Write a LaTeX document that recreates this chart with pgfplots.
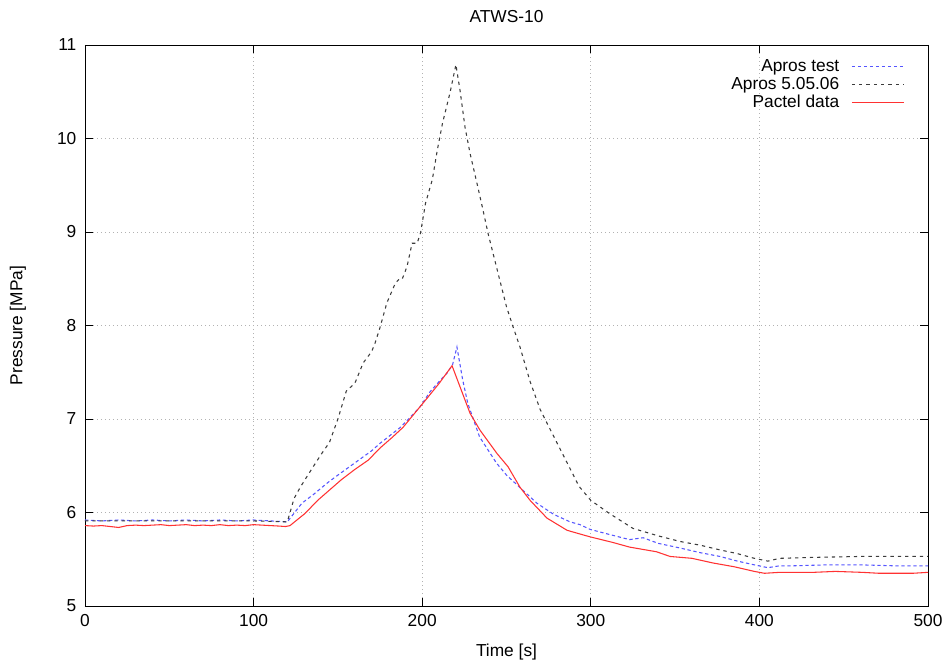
\documentclass[border=0pt]{standalone}
\usepackage{fontspec}
\setmainfont{Liberation Sans}
\usepackage{pgfplots}
\pgfplotsset{compat=1.18}
\usepackage{pgfplotstable}

\pgfplotstableread{
t P
0 5.92
10 5.91
20 5.92
30 5.91
40 5.92
50 5.91
60 5.92
70 5.91
80 5.92
90 5.91
100 5.92
110 5.91
120 5.90
128.7 6.10
136 6.20
144 6.32
150 6.40
160 6.53
170 6.66
175 6.74
187 6.91
193 7.02
198.7 7.13
204.6 7.29
210 7.40
214.7 7.49
218 7.58
220.6 7.77
224 7.42
227 7.17
234 6.81
244 6.53
250 6.40
256 6.30
268 6.10
278 5.98
287.7 5.90
293.6 5.87
299.5 5.82
310 5.77
323 5.71
331 5.73
340 5.67
353 5.62
365 5.57
376.6 5.53
387 5.48
397 5.44
405 5.41
412 5.43
420 5.43
440 5.44
460 5.44
480 5.43
500 5.43
}\aprostest

\pgfplotstableread{
t P
0 5.91
20 5.91
40 5.91
60 5.91
80 5.91
100 5.91
120 5.90
124 6.15
128 6.28
135 6.48
140 6.62
145 6.75
150 7.00
155 7.30
160 7.38
165 7.60
170 7.72
172 7.81
175 7.98
179 8.24
184 8.45
186 8.49
188 8.49
191 8.63
194 8.88
197 8.88
199 8.99
202 9.31
206 9.56
209 9.88
212 10.16
216.5 10.49
220 10.79
222.4 10.52
225.4 10.12
228.4 9.84
232.5 9.52
236 9.24
239 8.99
244 8.63
250 8.20
254 7.98
258 7.77
264 7.40
270 7.10
277 6.85
286 6.53
293 6.28
300 6.13
311 5.99
325 5.83
340 5.75
353 5.69
365 5.65
376.6 5.60
387 5.56
397 5.51
405 5.48
412 5.51
432 5.52
460 5.53
495 5.53
500 5.53
}\aprosold

\pgfplotstableread{
t P
0 5.86
5 5.855
10 5.86
15 5.85
20 5.84
25 5.86
30 5.865
35 5.86
40 5.865
45 5.87
50 5.86
55 5.865
60 5.87
65 5.86
70 5.865
75 5.86
80 5.87
85 5.86
90 5.865
95 5.86
100 5.87
105 5.865
110 5.86
115 5.855
119 5.85
121.6 5.86
130.5 5.99
138 6.13
145 6.24
152 6.35
160 6.46
168 6.56
175 6.69
182 6.80
188.6 6.91
195 7.05
202.8 7.22
210 7.38
217.7 7.57
228.4 7.06
234.3 6.88
244.4 6.63
250.9 6.49
258 6.27
264 6.13
274 5.94
285.9 5.81
293.6 5.77
299.5 5.74
313 5.68
323 5.63
339 5.58
347 5.53
360 5.51
372.5 5.46
385 5.42
397 5.37
403 5.35
412 5.36
432 5.36
445 5.37
461 5.36
471 5.35
491 5.35
500 5.36
}\pactel

\definecolor{aprosblue}{RGB}{85,85,255}
\definecolor{aprosblack}{RGB}{60,60,60}
\definecolor{pactelred}{RGB}{255,50,50}

\begin{document}
\begin{tikzpicture}
\useasboundingbox (-63.75pt,-44.25pt) rectangle (647.25pt,454.5pt);
\begin{axis}[
  at={(0pt,0pt)}, anchor=south west,
  scale only axis,
  width=632.25pt, height=420.75pt,
  xmin=0, xmax=500, ymin=5, ymax=11,
  xtick={0,100,...,500}, ytick={5,6,...,11},
  tick align=inside,
  major tick length=6pt,
  axis line style={black, line width=0.6pt},
  tick style={black, line width=0.6pt},
  grid=major,
  major grid style={gray!60, line width=0.5pt, dash pattern=on 1pt off 2pt},
  font=\fontsize{13}{15}\selectfont,
  ticklabel style={font=\fontsize{13}{15}\selectfont},
  /pgf/number format/assume math mode=true,
  xticklabel style={yshift=-3pt},
  yticklabel style={xshift=-3pt},
  title={ATWS-10},
  title style={at={(axis description cs:0.5,1.0365)}, anchor=center},
  xlabel={Time [s]},
  ylabel={Pressure [MPa]},
  xlabel style={at={(axis description cs:0.5,-0.082)}, anchor=center},
  ylabel style={at={(axis description cs:-0.0795,0.5)}, anchor=center},
  legend style={draw=none, fill=none, at={(0.977,0.984)}, anchor=north east,
    font=\fontsize{13}{15}\selectfont, row sep=-1.2pt,
    /tikz/every odd column/.append style={column sep=7pt}},
  legend cell align=right,
  legend plot pos=right,
  legend image code/.code={\draw[#1] (0pt,0pt) -- (39pt,0pt);},
]
\addplot[aprosblue, line width=0.8pt, dash pattern=on 2.5pt off 2pt] table[x=t,y=P] {\aprostest};
\addlegendentry{Apros test}
\addplot[aprosblack, line width=0.8pt, dash pattern=on 2.5pt off 3pt] table[x=t,y=P] {\aprosold};
\addlegendentry{Apros 5.05.06}
\addplot[pactelred, line width=0.8pt] table[x=t,y=P] {\pactel};
\addlegendentry{Pactel data}
\end{axis}
\end{tikzpicture}
\end{document}
